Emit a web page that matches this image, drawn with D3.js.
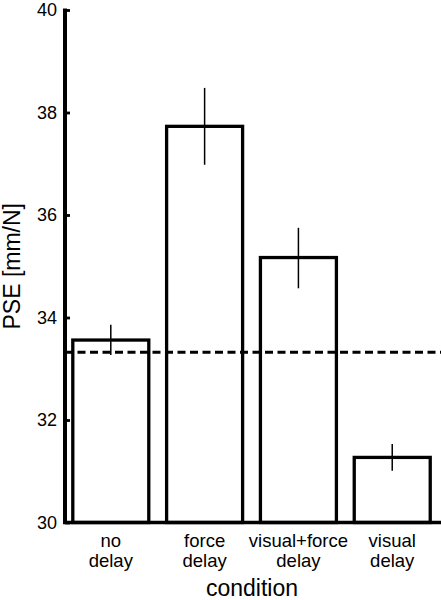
<!DOCTYPE html>
<html>
<head>
<meta charset="utf-8">
<script src="https://cdn.jsdelivr.net/npm/d3@7"></script>
<style>
  html, body { margin: 0; padding: 0; background: #fff; }
  svg { display: block; font-family: "Liberation Sans", Arial, Helvetica, sans-serif; }
</style>
</head>
<body>
<svg id="chart" width="441" height="600"></svg>
<script>
const categories = ["no delay", "force delay", "visual+force delay", "visual delay"];
const categoryLines = [["no", "delay"], ["force", "delay"], ["visual+force", "delay"], ["visual", "delay"]];
const pse = [33.56, 37.73, 35.17, 31.27];
const errLow = [33.27, 36.98, 34.57, 31.01];
const errHigh = [33.86, 38.48, 35.75, 31.53];
const reference = [33.32];
const yTicks = [30, 32, 34, 36, 38, 40];
const yLabel = "PSE [mm/N]";
const xLabel = "condition";

const svg = d3.select("#chart");

const x = d3.scaleBand()
  .domain(categories)
  .range([65, 441])
  .paddingInner(0.19)
  .paddingOuter(0.099)
  .align(0.42);

const y = d3.scaleLinear()
  .domain([30, 40])
  .range([522.5, 10]);

// bars
svg.append("g").selectAll("rect")
  .data(categories)
  .join("rect")
  .attr("x", d => x(d))
  .attr("width", x.bandwidth())
  .attr("y", (d, i) => y(pse[i]))
  .attr("height", (d, i) => y(30) - y(pse[i]))
  .attr("fill", "#fff")
  .attr("stroke", "#000")
  .attr("stroke-width", 3.3);

// error bars
svg.append("g").selectAll("line")
  .data(categories)
  .join("line")
  .attr("x1", d => x(d) + x.bandwidth() / 2)
  .attr("x2", d => x(d) + x.bandwidth() / 2)
  .attr("y1", (d, i) => y(errLow[i]))
  .attr("y2", (d, i) => y(errHigh[i]))
  .attr("stroke", "#000")
  .attr("stroke-width", 1.5);

// reference dashed line
svg.append("g").selectAll("line")
  .data(reference)
  .join("line")
  .attr("x1", 65)
  .attr("x2", 441)
  .attr("y1", d => y(d))
  .attr("y2", d => y(d))
  .attr("stroke", "#000")
  .attr("stroke-width", 3)
  .attr("stroke-dasharray", "8,4.5");

// x axis
const xAxis = svg.append("g")
  .attr("transform", `translate(0,${y(30)})`)
  .call(d3.axisBottom(x).tickSize(0).tickSizeOuter(0));
xAxis.select(".domain").attr("stroke", "#000").attr("stroke-width", 3.5)
  .attr("d", `M63,0H441`);
xAxis.selectAll(".tick").each(function(d) {
  const i = categories.indexOf(d);
  const g = d3.select(this);
  g.select("text").remove();
  categoryLines[i].forEach((ln, k) => {
    g.append("text")
      .attr("x", 0)
      .attr("y", 24 + k * 20.5)
      .attr("text-anchor", "middle")
      .attr("font-size", 18.5)
      .attr("fill", "#000")
      .text(ln);
  });
});

// y axis
const yAxis = svg.append("g")
  .attr("transform", "translate(65,0)")
  .call(d3.axisLeft(y).tickValues(yTicks).tickSizeInner(-5).tickSizeOuter(0).tickPadding(8));
yAxis.select(".domain").attr("stroke", "#000").attr("stroke-width", 4)
  .attr("d", `M0,${y(40) - 1.5}V${y(30)}`);
yAxis.selectAll(".tick line").attr("stroke", "#000").attr("stroke-width", 2.8);
yAxis.selectAll(".tick text").attr("font-size", 18).attr("fill", "#000").attr("font-family", null);

// axis titles
svg.append("text")
  .attr("transform", `translate(20,${(y(30) + y(40)) / 2}) rotate(-90)`)
  .attr("text-anchor", "middle")
  .attr("font-size", 23)
  .attr("fill", "#000")
  .text(yLabel);

svg.append("text")
  .attr("x", 252)
  .attr("y", 596)
  .attr("text-anchor", "middle")
  .attr("font-size", 23)
  .attr("fill", "#000")
  .text(xLabel);
</script>
</body>
</html>
